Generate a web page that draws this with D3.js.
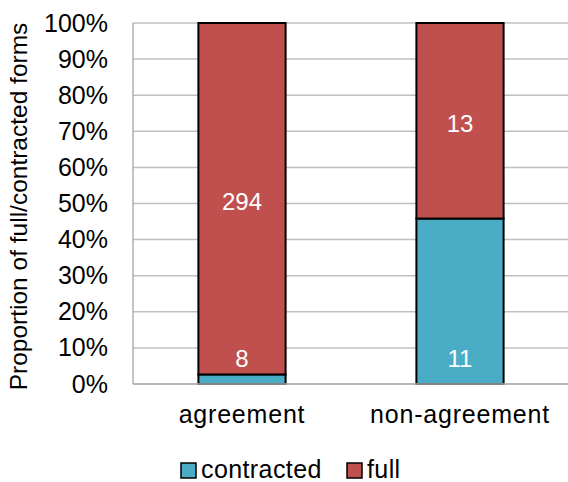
<!DOCTYPE html>
<html>
<head>
<meta charset="utf-8">
<script src="https://cdn.jsdelivr.net/npm/d3@7"></script>
<style>
  body { margin: 0; background: #fff; }
  text { font-family: "Liberation Sans", Arial, sans-serif; }
</style>
</head>
<body>
<svg id="chart" width="568" height="482"></svg>
<script>
const categories = ['agreement', 'non-agreement'];
const seriesNames = ['contracted', 'full'];
const contracted = [8, 11];
const full = [294, 13];
const yTicks = [0, 0.1, 0.2, 0.3, 0.4, 0.5, 0.6, 0.7, 0.8, 0.9, 1];
const colors = ['#4BACC6', '#C0504D'];

const svg = d3.select('#chart');
const margin = { top: 23, right: 0, bottom: 98, left: 133 };
const width = 569 - margin.left;
const height = 384 - margin.top;

const g = svg.append('g')
  .attr('transform', `translate(${margin.left},${margin.top})`);

const x = d3.scaleBand()
  .domain(categories)
  .range([0, width])
  .paddingInner(0.6)
  .paddingOuter(0.3);

const y = d3.scaleLinear()
  .domain([0, 1])
  .range([height, 0]);

// gridlines
g.selectAll('.grid')
  .data(yTicks)
  .enter().append('line')
  .attr('x1', 0)
  .attr('x2', width)
  .attr('y1', (d) => y(d))
  .attr('y2', (d) => y(d))
  .attr('stroke', '#c0c0c0')
  .attr('stroke-width', 1.5);

// left axis line
g.append('line')
  .attr('x1', 0).attr('x2', 0)
  .attr('y1', 0).attr('y2', height)
  .attr('stroke', '#b0b0b0')
  .attr('stroke-width', 1.5);

// y tick labels
const yAxis = d3.axisLeft(y)
  .tickValues(yTicks)
  .tickFormat(d3.format('.0%'))
  .tickSize(0)
  .tickPadding(25);
g.append('g')
  .call(yAxis)
  .call((sel) => sel.select('.domain').remove())
  .selectAll('text')
  .attr('font-size', 25)
  .attr('fill', '#000')
  .style('font-family', '"Liberation Sans", Arial, sans-serif');

// stacked data
const rows = categories.map((c, i) => ({ category: c, contracted: contracted[i], full: full[i] }));
const stack = d3.stack().keys(seriesNames).offset(d3.stackOffsetExpand);
const stacked = stack(rows);

stacked.forEach((layer, li) => {
  g.selectAll(`.bar-${li}`)
    .data(layer)
    .enter().append('rect')
    .attr('x', (d) => x(d.data.category))
    .attr('y', (d) => y(d[1]))
    .attr('width', x.bandwidth())
    .attr('height', (d) => y(d[0]) - y(d[1]))
    .attr('fill', colors[li])
    .attr('stroke', '#000')
    .attr('stroke-width', 2);
});

// value labels: contracted sits near the base, full in the middle
stacked.forEach((layer, li) => {
  g.selectAll(null)
    .data(layer)
    .enter().append('text')
    .attr('x', (d) => x(d.data.category) + x.bandwidth() / 2)
    .attr('y', (d) => (li === 0 ? y(0) - 26 : (y(d[0]) + y(d[1])) / 2 + 3))
    .attr('text-anchor', 'middle')
    .attr('dominant-baseline', 'central')
    .attr('font-size', 24)
    .attr('fill', '#fff')
    .text((d) => d.data[layer.key]);
});

// bottom axis line
g.append('line')
  .attr('x1', 0).attr('x2', width)
  .attr('y1', height).attr('y2', height)
  .attr('stroke', '#b0b0b0')
  .attr('stroke-width', 1.5);

// category labels
g.selectAll('.cat')
  .data(categories)
  .enter().append('text')
  .attr('x', (d) => x(d) + x.bandwidth() / 2)
  .attr('y', 423 - margin.top)
  .attr('text-anchor', 'middle')
  .attr('font-size', 25)
  .attr('letter-spacing', 0.8)
  .attr('fill', '#000')
  .text((d) => d);

// y title
svg.append('text')
  .attr('transform', `translate(27,${margin.top + height / 2 + 3}) rotate(-90)`)
  .attr('text-anchor', 'middle')
  .attr('font-size', 24.5)
  .attr('fill', '#000')
  .text('Proportion of full/contracted forms');

// legend
const legend = svg.append('g').attr('transform', 'translate(181,463)');
const legendX = [0, 166];
seriesNames.forEach((name, i) => {
  legend.append('rect')
    .attr('x', legendX[i])
    .attr('y', 0)
    .attr('width', 15)
    .attr('height', 15)
    .attr('fill', colors[i])
    .attr('stroke', '#000')
    .attr('stroke-width', 1.5);
  legend.append('text')
    .attr('x', legendX[i] + 20)
    .attr('y', 15)
    .attr('font-size', 25)
    .attr('letter-spacing', 0.4)
    .attr('fill', '#000')
    .text(name);
});
</script>
</body>
</html>
